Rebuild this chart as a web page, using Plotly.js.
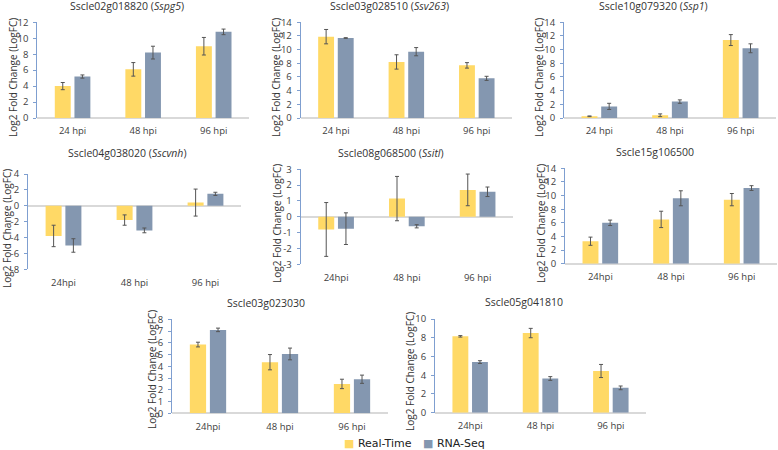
<!DOCTYPE html>
<html>
<head>
<meta charset="utf-8">
<script src="https://cdn.plot.ly/plotly-3.0.1.min.js"></script>
<style>
  html, body { margin: 0; padding: 0; background: #fff; }
</style>
</head>
<body>
<div id="chart" style="width:778px;height:450px;"></div>
<script>
// values
const titles = [
    'Sscle02g018820 (<i>Sspg5</i>)', 'Sscle03g028510 (<i>Ssv263</i>)', 'Sscle10g079320 (<i>Ssp1</i>)',
    'Sscle04g038020 (<i>Sscvnh</i>)', 'Sscle08g068500 (<i>Ssitl</i>)', 'Sscle15g106500',
    'Sscle03g023030', 'Sscle05g041810'
];
const catsSpaced = ['24 hpi', '48 hpi', '96 hpi'];
const catsMixed = ['24hpi', '48 hpi', '96 hpi'];
const categories = [catsSpaced, catsSpaced, catsSpaced, catsMixed, catsMixed, catsMixed, catsMixed, catsMixed];

const realTime = [
    [4.0, 6.1, 9.0], [11.9, 8.2, 7.7], [0.25, 0.4, 11.4], [-3.8, -1.8, 0.4],
    [-0.8, 1.15, 1.7], [3.3, 6.5, 9.4], [5.85, 4.35, 2.5], [8.15, 8.5, 4.45]
];
const realTimeErr = [
    [0.45, 0.85, 1.1], [1.05, 1.05, 0.4], [0.05, 0.2, 0.8], [1.35, 0.65, 1.7],
    [1.7, 1.4, 1.0], [0.6, 1.2, 0.9], [0.2, 0.65, 0.4], [0.08, 0.5, 0.7]
];
const rnaSeq = [
    [5.2, 8.2, 10.8], [11.7, 9.7, 5.8], [1.7, 2.4, 10.2], [-5.0, -3.1, 1.5],
    [-0.75, -0.6, 1.58], [6.0, 9.6, 11.1], [7.1, 5.05, 2.9], [5.4, 3.65, 2.65]
];
const rnaSeqErr = [
    [0.2, 0.8, 0.35], [0.05, 0.6, 0.3], [0.45, 0.25, 0.65], [0.85, 0.3, 0.2],
    [1.0, 0.1, 0.3], [0.4, 1.1, 0.35], [0.15, 0.5, 0.35], [0.15, 0.2, 0.2]
];
const yRanges = [[0, 12], [0, 14], [0, 14], [-8, 4], [-3, 3], [0, 14], [0, 8], [0, 10]];
const yTicks = [2, 2, 2, 2, 1, 2, 1, 2];

// pixel boxes of each panel: left, right, top, bottom, title centre, y title x
const W = 778, H = 450;
const boxes = [
    [37.3, 249, 22.3, 118, 126.5, 13],
    [300.7, 512, 22.3, 118, 390, 276],
    [564, 776, 22.3, 118, 653, 539],
    [28, 241, 174, 269.3, 128, 7],
    [300.7, 513, 169.3, 264.3, 391, 277],
    [565, 777, 168.3, 263.7, 655, 541],
    [172, 388, 319.3, 413.3, 266, 152],
    [435, 646, 319, 412.7, 524, 410]
];
const yTitleMid = [78, 78, 78, 229, 224, 224, 370, 372];
const titleY = [6, 6, 6, 153, 153, 152, 303, 302];

const YELLOW = '#FFD966', BLUE = '#8497B0', TXT = '#404040';
const data = [];
const annotations = [];
const layout = {
    width: W,
    height: H,
    margin: { t: 0, b: 0, l: 0, r: 0 },
    paper_bgcolor: '#fff',
    plot_bgcolor: '#fff',
    font: { family: 'Open Sans', color: TXT, size: 10 },
    barmode: 'group',
    bargap: 0.443,
    bargroupgap: 0.19,
    showlegend: false
};

boxes.forEach((b, i) => {
    const n = i === 0 ? '' : String(i + 1);
    const errBar = arr => ({ type: 'data', array: arr, color: '#555', thickness: 1, width: 2 });

    data.push({
        type: 'bar', name: 'Real-Time', x: categories[i], y: realTime[i],
        xaxis: 'x' + n, yaxis: 'y' + n, marker: { color: YELLOW },
        error_y: errBar(realTimeErr[i])
    });
    data.push({
        type: 'bar', name: 'RNA-Seq', x: categories[i], y: rnaSeq[i],
        xaxis: 'x' + n, yaxis: 'y' + n, marker: { color: BLUE },
        error_y: errBar(rnaSeqErr[i])
    });

    // tick labels written out so negatives get a plain hyphen, narrower than plotly's minus
    const tickVals = [];
    for (let v = yRanges[i][0]; v <= yRanges[i][1]; v += yTicks[i]) tickVals.push(v);

    layout['xaxis' + n] = {
        domain: [b[0] / W, b[1] / W],
        anchor: 'y' + n,
        type: 'category',
        range: [-0.5, 2.5],
        showline: false,
        showgrid: false,
        zeroline: false,
        ticks: 'outside',
        ticklen: 4,
        tickcolor: 'rgba(0,0,0,0)',
        tickfont: { size: 9.5, color: TXT }
    };
    layout['yaxis' + n] = {
        domain: [1 - b[3] / H, 1 - b[2] / H],
        anchor: 'x' + n,
        range: yRanges[i],
        tickmode: 'array',
        tickvals: tickVals,
        ticktext: tickVals.map(String),
        showgrid: false,
        showline: true,
        linecolor: '#7F9FD0',
        linewidth: 1,
        ticks: 'outside',
        ticklen: 3,
        tickcolor: '#7F9FD0',
        ticklabelstandoff: 3,
        tickfont: { size: 9.5, color: TXT },
        zeroline: true,
        zerolinecolor: '#D9D9D9',
        zerolinewidth: 1.5
    };

    annotations.push({
        text: titles[i], xref: 'paper', yref: 'paper', showarrow: false,
        x: b[4] / W, y: 1 - titleY[i] / H, xanchor: 'center', yanchor: 'middle',
        font: { size: 10.5, color: '#333' }
    });
    annotations.push({
        text: 'Log2 Fold Change (LogFC)', xref: 'paper', yref: 'paper', showarrow: false,
        x: b[5] / W, y: 1 - yTitleMid[i] / H, xanchor: 'center', yanchor: 'middle',
        textangle: -90, font: { size: 10, color: '#333' }
    });
});

// legend row under the last two panels
const legendItems = [['Real-Time', YELLOW, 342], ['RNA-Seq', BLUE, 421]];
legendItems.forEach(item => {
    annotations.push({
        text: '<span style="color:' + item[1] + '">■</span> ' + item[0],
        xref: 'paper', yref: 'paper', showarrow: false,
        x: item[2] / W, y: 1 - 443 / H, xanchor: 'left', yanchor: 'middle',
        font: { family: 'DejaVu Sans', size: 11, color: '#222' }
    });
});
layout.annotations = annotations;

Plotly.newPlot('chart', data, layout, { displayModeBar: false });
</script>
</body>
</html>
